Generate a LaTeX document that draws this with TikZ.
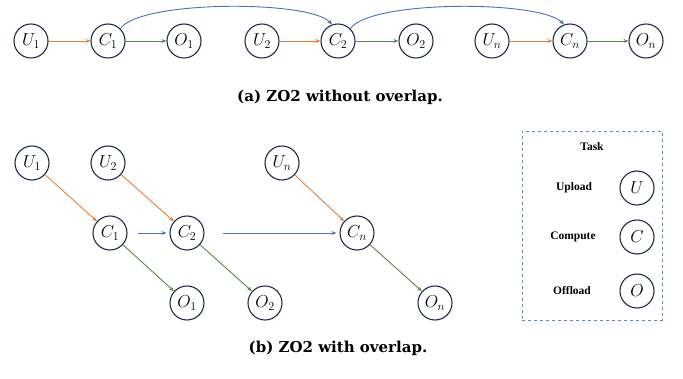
\documentclass[tikz,border=0pt]{standalone}
\usepackage{fontspec}
\setmainfont{Liberation Serif}
\newfontfamily\capfont{DejaVu Serif}
\usetikzlibrary{arrows.meta}
\definecolor{nodeline}{HTML}{1F2A4F}
\definecolor{upc}{HTML}{ED7D31}
\definecolor{offc}{HTML}{5B8A3C}
\definecolor{cmpc}{HTML}{4472C4}
\definecolor{boxc}{HTML}{5B86C8}
\begin{document}
\begin{tikzpicture}[x=1pt,y=-1pt,
  task/.style={circle,draw=nodeline,line width=1.1pt,minimum size=34pt,inner sep=0pt,font=\fontsize{17.5}{19}\selectfont},
  arr/.style={line width=0.9pt,-{Stealth[length=5pt,width=4pt]}},
  uparr/.style={arr,draw=upc},
  offarr/.style={arr,draw=offc},
  cmparr/.style={arr,draw=cmpc},
  caption/.style={font=\capfont\fontsize{15}{17}\selectfont\bfseries},
  legtxt/.style={font=\fontsize{11.5}{13}\selectfont\bfseries}]
\useasboundingbox (0,0) rectangle (683,379);
% (a)
\node[task] (U1) at (31,41) {$U_1$};
\node[task] (C1) at (108,41) {$C_1$};
\node[task] (O1) at (184,41) {$O_1$};
\node[task] (U2) at (262,41) {$U_2$};
\node[task] (C2) at (338,41) {$C_2$};
\node[task] (O2) at (416,41) {$O_2$};
\node[task] (Un) at (492,41) {$U_n$};
\node[task] (Cn) at (570,41) {$C_n$};
\node[task] (On) at (646,41) {$O_n$};
\draw[uparr] (U1) -- (C1);
\draw[offarr] (C1) -- (O1);
\draw[uparr] (U2) -- (C2);
\draw[offarr] (C2) -- (O2);
\draw[uparr] (Un) -- (Cn);
\draw[offarr] (Cn) -- (On);
\draw[cmparr] (C1.45) .. controls (140,0) and (310,0) .. (C2.110);
\draw[cmparr] (C2.45) .. controls (370,0) and (540,0) .. (Cn.110);
\node[caption] (capa) at (340,97) {(a) ZO2 without overlap.};
% (b)
\node[task] (bU1) at (32,163) {$U_1$};
\node[task] (bU2) at (108,163) {$U_2$};
\node[task] (bUn) at (282,163) {$U_n$};
\node[task] (bC1) at (110,233) {$C_1$};
\node[task] (bC2) at (187,233) {$C_2$};
\node[task] (bCn) at (357,233) {$C_n$};
\node[task] (bO1) at (187,303) {$O_1$};
\node[task] (bO2) at (265,303) {$O_2$};
\node[task] (bOn) at (435,303) {$O_n$};
\draw[uparr] (bU1) -- (bC1);
\draw[uparr] (bU2) -- (bC2);
\draw[uparr] (bUn) -- (bCn);
\draw[offarr] (bC1) -- (bO1);
\draw[offarr] (bC2) -- (bO2);
\draw[offarr] (bCn) -- (bOn);
\draw[cmparr,shorten <=10pt,shorten >=3pt] (bC1) -- (bC2);
\draw[cmparr,shorten <=18pt,shorten >=3pt] (bC2) -- (bCn);
\node[caption] (capb) at (338,348) {(b) ZO2 with overlap.};
% legend
\node[draw=boxc,dashed,line width=0.9pt,minimum width=140pt,minimum height=189pt,inner sep=0pt] (leg) at (592,225.5) {};
\node[legtxt] (ltask) at (592,147) {Task};
\node[legtxt] (lup) at (574,188) {Upload};
\node[legtxt] (lcmp) at (573,237) {Compute};
\node[legtxt] (loff) at (572,291) {Offload};
\node[task] (lU) at (637,188) {$U$};
\node[task] (lC) at (637,237) {$C$};
\node[task] (lO) at (637,291) {$O$};
\end{tikzpicture}
\end{document}
